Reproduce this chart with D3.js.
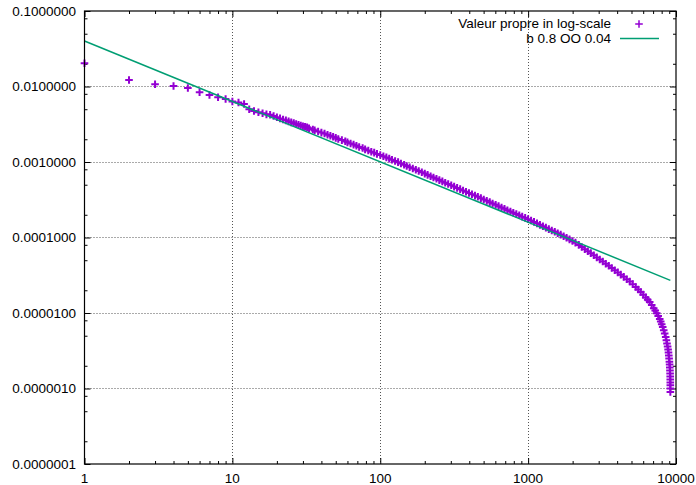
<!DOCTYPE html>
<html><head><meta charset="utf-8">
<script src="https://cdnjs.cloudflare.com/ajax/libs/d3/7.8.5/d3.min.js"></script>
<style>
body{margin:0;background:#fff}
svg{display:block}
text{font-family:"Liberation Sans",Arial,Helvetica,sans-serif;font-size:13.5px;fill:#000}
</style>
</head><body><svg id="c" width="696" height="485"></svg>
<script>
// Eigenvalue rank (x) and eigenvalue (y)
const ranks = [1,2,3,4,5,6,7,8,9,10,11,12,13,14,15,16,17,18,19,20,21,22,23,24,25,26,27,28,29,30,31,
32,33,35,36,38,40,42,44,46,48,50,52,55,58,60,63,66,69,72,76,79,83,87,91,95,100,105,110,115,120,126,132,138,145,151,158,166,174,182,191,200,209,219,229,240,251,263,275,288,302,316,331,347,363,380,398,417,437,457,479,501,525,550,575,603,631,661,692,724,759,794,832,871,912,955,1000,1047,1096,1148,1202,1259,1318,1380,1445,1514,1585,1660,1738,1820,1905,1995,2089,
2200,2305,2416,2532,2652,2779,2912,3051,3197,3350,3510,3677,3853,4037,4230,4432,4644,4866,5097,5342,5554,5774,6004,6242,6439,6642,6852,7068,7236,7406,7580,7762,7882,8006,8131,8259,8387,8519,8611,8693,8774,8843,8898,8941,8982,9024,9053,9081,9102,9123,9138,9145,9150,9154,9157,9159];
const values = [2.03e-2,1.22e-2,1.07e-2,1.015e-2,9.55e-3,8.38e-3,7.72e-3,7.19e-3,6.83e-3,6.33e-3,6.14e-3,5.87e-3,4.99e-3,4.74e-3,4.55e-3,4.42e-3,4.28e-3,4.22e-3,4.06e-3,3.91e-3,3.78e-3,3.66e-3,3.56e-3,3.45e-3,3.35e-3,3.27e-3,3.19e-3,3.11e-3,3.04e-3,2.98e-3,2.93e-3,
2.88e-3,2.79e-3,2.70e-3,2.62e-3,2.53e-3,2.45e-3,2.38e-3,2.30e-3,2.23e-3,2.16e-3,2.09e-3,2.02e-3,1.95e-3,1.88e-3,1.82e-3,1.76e-3,1.70e-3,1.64e-3,1.58e-3,1.53e-3,1.47e-3,1.42e-3,1.37e-3,1.33e-3,1.28e-3,1.24e-3,1.19e-3,1.15e-3,1.11e-3,1.07e-3,1.03e-3,9.95e-4,9.57e-4,9.21e-4,8.86e-4,8.53e-4,8.21e-4,7.90e-4,7.60e-4,7.31e-4,7.02e-4,6.75e-4,6.49e-4,6.23e-4,5.99e-4,5.76e-4,5.53e-4,5.31e-4,5.11e-4,4.91e-4,4.72e-4,4.54e-4,4.37e-4,4.20e-4,4.04e-4,3.89e-4,3.74e-4,3.59e-4,3.46e-4,3.32e-4,3.19e-4,3.06e-4,2.94e-4,2.82e-4,2.71e-4,2.60e-4,2.50e-4,2.40e-4,2.30e-4,2.21e-4,2.13e-4,2.05e-4,1.97e-4,1.89e-4,1.82e-4,1.75e-4,1.68e-4,1.61e-4,1.54e-4,1.47e-4,1.41e-4,1.35e-4,1.29e-4,1.24e-4,1.19e-4,1.14e-4,1.09e-4,1.04e-4,9.91e-5,9.43e-5,8.98e-5,8.55e-5,
7.98e-5,7.49e-5,7.00e-5,6.56e-5,6.20e-5,5.81e-5,5.45e-5,5.11e-5,4.80e-5,4.50e-5,4.22e-5,3.94e-5,3.69e-5,3.45e-5,3.22e-5,3.01e-5,2.80e-5,2.61e-5,2.41e-5,2.21e-5,2.05e-5,1.90e-5,1.75e-5,1.61e-5,1.50e-5,1.40e-5,1.28e-5,1.16e-5,1.08e-5,9.91e-6,9.10e-6,8.33e-6,7.69e-6,7.09e-6,6.53e-6,5.90e-6,5.34e-6,4.81e-6,4.35e-6,3.94e-6,3.60e-6,3.29e-6,3.00e-6,2.74e-6,2.50e-6,2.26e-6,2.08e-6,1.90e-6,1.73e-6,1.58e-6,1.44e-6,1.32e-6,1.20e-6,1.10e-6,1.00e-6,8.99e-7];

// Fitted power law: OO * x^(-b)
const fitB = 0.8;
const fitOO = 0.04;

const xTickValues = [1, 10, 100, 1000, 10000];
const xTickLabels = ["1", "10", "100", "1000", "10000"];
const yTickValues = [1e-1, 1e-2, 1e-3, 1e-4, 1e-5, 1e-6, 1e-7];
const yTickLabels = ["0.1000000", "0.0100000", "0.0010000", "0.0001000", "0.0000100", "0.0000010", "0.0000001"];
const xMinorMultiples = [2, 3, 4, 5, 6, 7, 8, 9];
const yMinorMultiples = [2, 5, 8];
const legendLabels = ["Valeur propre in log-scale", "b 0.8 OO 0.04"];

const W = 696, H = 485;
const L = 84.5, R = 676, T = 11, B = 464;
const purple = "#9400D3", green = "#009E73";

const svg = d3.select("#c");
svg.append("rect").attr("width", W).attr("height", H).attr("fill", "#fff");

const x = d3.scaleLog().domain([1, 10000]).range([L, R]);
const y = d3.scaleLog().domain([1e-7, 1e-1]).range([B, T]);

// grid
const grid = svg.append("g").attr("stroke", "#555").attr("stroke-width", 1).attr("stroke-dasharray", "1,2");
xTickValues.slice(1, -1).forEach(v => {
  const px = Math.round(x(v)) + 0.5;
  grid.append("line").attr("x1", px).attr("x2", px).attr("y1", T).attr("y2", B);
});
yTickValues.slice(1, -1).forEach(v => {
  const py = Math.round(y(v)) + 0.5;
  grid.append("line").attr("x1", L).attr("x2", R).attr("y1", py).attr("y2", py);
});

// axes with ticks on all four sides (inward)
function addAxis(axisGen, tx, ty) {
  const g = svg.append("g").attr("transform", `translate(${tx},${ty})`).call(axisGen);
  g.select(".domain").remove();
  g.selectAll("text").remove();
  g.selectAll("line").attr("stroke", "#000").attr("stroke-width", 1);
  return g;
}
const xMinor = [];
xTickValues.slice(0, -1).forEach(d => xMinorMultiples.forEach(k => xMinor.push(d * k)));
const yMinor = [];
yTickValues.slice(1).forEach(d => yMinorMultiples.forEach(k => yMinor.push(d * k)));

addAxis(d3.axisBottom(x).tickValues(xTickValues).tickSize(-6), 0, B);
addAxis(d3.axisBottom(x).tickValues(xMinor).tickSize(-3), 0, B);
addAxis(d3.axisTop(x).tickValues(xTickValues).tickSize(-6), 0, T);
addAxis(d3.axisTop(x).tickValues(xMinor).tickSize(-3), 0, T);
addAxis(d3.axisLeft(y).tickValues(yTickValues).tickSize(-6), L, 0);
addAxis(d3.axisLeft(y).tickValues(yMinor).tickSize(-3), L, 0);
addAxis(d3.axisRight(y).tickValues(yTickValues).tickSize(-6), R, 0);
addAxis(d3.axisRight(y).tickValues(yMinor).tickSize(-3), R, 0);

// tick labels
svg.append("g").selectAll("text").data(xTickValues).join("text")
  .attr("x", d => x(d)).attr("y", 483).attr("text-anchor", "middle")
  .text((d, i) => xTickLabels[i]);
svg.append("g").selectAll("text").data(yTickValues).join("text")
  .attr("x", 76).attr("y", d => y(d) + 4.8).attr("text-anchor", "end")
  .text((d, i) => yTickLabels[i]);

// data points (plus marks)
const plus = "M-3.8,0H3.8M0,-3.8V3.8";
const pts = ranks.map((r, i) => [r, values[i]]);
svg.append("g").attr("class", "pts")
  .selectAll("path").data(pts).join("path")
  .attr("d", plus)
  .attr("stroke", purple).attr("stroke-width", 2).attr("fill", "none")
  .attr("transform", d => `translate(${x(d[0])},${y(d[1])})`);

// fitted line
const xEnd = d3.max(ranks);
const fitPts = [1, xEnd].map(v => [v, fitOO * Math.pow(v, -fitB)]);
svg.append("path").datum(fitPts)
  .attr("d", d3.line().x(d => x(d[0])).y(d => y(d[1])))
  .attr("stroke", green).attr("stroke-width", 1.5).attr("fill", "none");

// border
svg.append("rect").attr("x", L).attr("y", T).attr("width", R - L).attr("height", B - T)
  .attr("fill", "none").attr("stroke", "#000").attr("stroke-width", 1.2);

// legend
const lg = svg.append("g");
lg.append("text").attr("x", 611).attr("y", 28.3).attr("text-anchor", "end").text(legendLabels[0]);
lg.append("text").attr("x", 611).attr("y", 42.7).attr("text-anchor", "end").text(legendLabels[1]);
lg.append("path").attr("d", plus).attr("transform", "translate(639,24)")
  .attr("stroke", purple).attr("stroke-width", 1.5).attr("fill", "none");
lg.append("line").attr("x1", 620).attr("x2", 659).attr("y1", 38.5).attr("y2", 38.5)
  .attr("stroke", green).attr("stroke-width", 1.5);
</script>
</body></html>
